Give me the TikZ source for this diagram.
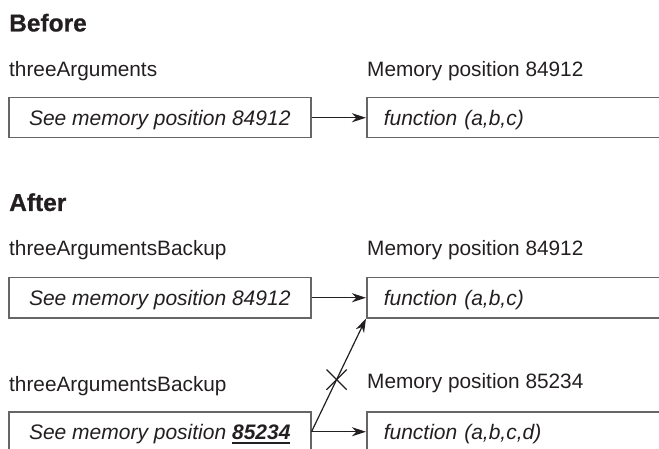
\documentclass[tikz,border=0pt]{standalone}
\usepackage{fontspec}
\setmainfont{Liberation Sans}
\newfontfamily\headfont{Liberation Sans Bold}[FakeBold=0.6]
\usetikzlibrary{arrows.meta,shapes.misc}
\definecolor{ink}{HTML}{231F20}
\definecolor{boxgray}{HTML}{666666}
\newcommand\ulnum[1]{\sbox0{#1}\rlap{\vrule height -2.4pt depth 4.4pt width\wd0}\usebox0}
\begin{document}
\begin{tikzpicture}[x=1pt,y=-1pt,
  txt/.style={font=\fontsize{20.8}{25}\selectfont, inner sep=0pt, anchor=base west, text=ink},
  head/.style={font=\fontsize{24.5}{28}\selectfont\headfont, inner sep=0pt, anchor=base west, text=ink},
  varbox/.style={draw=boxgray, line width=1.5pt, minimum width=302pt, minimum height=40pt,
    anchor=north west, inner sep=0pt, text height=16pt, text depth=0pt,
    font=\fontsize{21}{25}\selectfont\itshape, text=ink},
  membox/.style={draw=boxgray, line width=1.5pt, text width=306pt, inner xsep=17pt, inner ysep=0pt,
    minimum height=40pt, anchor=north west, align=left, text height=16pt, text depth=0pt,
    font=\fontsize{21}{25}\selectfont\itshape, text=ink},
  link/.style={-{Stealth[length=14pt,width=9pt,inset=4.5pt]}, line width=1.2pt, draw=ink},
  crossmark/.style={cross out, draw=ink, line width=1.2pt, minimum size=19pt, inner sep=0pt}
]
\useasboundingbox (0,0) rectangle (659,449);
\clip (0,0) rectangle (659,449);
% Before
\node[head] (before) at (9,31.5) {Before};
\node[txt] (lab1) at (9,76.5) {threeArguments};
\node[txt] (mem1) at (367,76.5) {Memory position 84912};
\node[varbox] (v1) at (8,97) {See memory position 84912};
\node[membox] (m1) at (366,97) {function (a,b,c)};
\draw[link] (v1.east) -- (m1.west);
% After
\node[head] (after) at (9,211) {After};
\node[txt] (lab2) at (9,256) {threeArgumentsBackup};
\node[txt] (mem2) at (367,256) {Memory position 84912};
\node[varbox] (v2) at (8,277) {See memory position 84912};
\node[membox] (m2) at (366,277) {function (a,b,c)};
\node[txt] (lab3) at (9,391) {threeArgumentsBackup};
\node[txt] (mem3) at (367,388.5) {Memory position 85234};
\node[varbox] (v3) at (8,411) {See memory position \ulnum{\bfseries 85234}};
\node[membox] (m3) at (366,411) {function (a,b,c,d)};
\draw[link] (v2.east) -- (m2.west);
\draw[link] (v3.east) -- (m3.west);
\draw[link] (v3.east) -- node[pos=0.46, crossmark] (x) {} (m2.south west);
\end{tikzpicture}
\end{document}
